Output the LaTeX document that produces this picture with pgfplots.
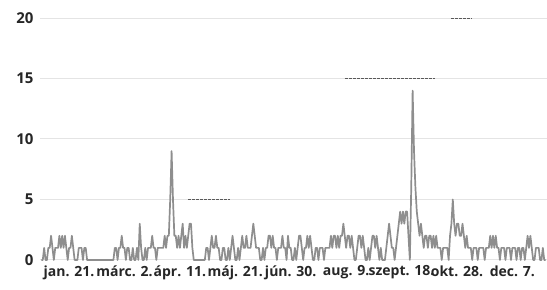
\documentclass[border=0pt]{standalone}
\usepackage{pgfplots}
\pgfplotsset{compat=1.18}
\usepackage{fontspec}
\setmainfont{Open Sans}
\definecolor{linegray}{HTML}{8E8E8E}
\definecolor{gridgray}{HTML}{E4E4E4}
\begin{document}
\begin{tikzpicture}
\useasboundingbox (-40bp,-26.4bp) rectangle (507bp,263.6bp);
\begin{axis}[
  at={(0,0)}, anchor=south west,
  scale only axis,
  width=507bp, height=249.2bp,
  xmin=0, xmax=366,
  ymin=-0.3, ymax=20.3,
  clip=false,
  axis line style={draw=none},
  tick style={draw=none},
  ytick={0,5,10,15,20},
  xtick={21,61,101,141,181,221,261,301,341},
  xticklabels={jan. 21.,márc. 2.,ápr. 11.,máj. 21.,jún. 30.,aug. 9.,szept. 18.,okt. 28.,dec. 7.},
  ymajorgrids,
  major grid style={gridgray, line width=1bp},
  /pgf/number format/assume math mode=true,
  yticklabel style={font=\fontsize{15bp}{16bp}\selectfont\bfseries, xshift=-3bp, text=black!85},
  xticklabel style={font=\fontsize{14bp}{15bp}\selectfont\bfseries, inner sep=1bp, yshift=-1bp, text=black!85},
]
\addplot[forget plot, black!65, line width=0.8bp, dash pattern=on 3bp off 1bp] coordinates {(107,5)(137,5)};
\addplot[forget plot, black!65, line width=0.8bp, dash pattern=on 3bp off 1bp] coordinates {(220,15)(285,15)};
\addplot[forget plot, black!65, line width=0.8bp, dash pattern=on 3bp off 1bp] coordinates {(297,20)(312,20)};
\addplot[linegray, line width=1.7bp, line join=round] coordinates {
(1,0)(2,0)(3,1)(4,0)(5,0)(6,1)(7,1)(8,2)(9,1)(10,0)
(11,1)(12,1)(13,1)(14,2)(15,1)(16,2)(17,1)(18,2)(19,1)(20,0)
(21,1)(22,1)(23,2)(24,1)(25,0)(26,0)(27,0)(28,1)(29,1)(30,1)
(31,0)(32,1)(33,1)(34,0)(35,0)(36,0)(37,0)(38,0)(39,0)(40,0)
(41,0)(42,0)(43,0)(44,0)(45,0)(46,0)(47,0)(48,0)(49,0)(50,0)
(51,0)(52,0)(53,0)(54,1)(55,1)(56,0)(57,1)(58,1)(59,2)(60,1)
(61,1)(62,0)(63,1)(64,1)(65,0)(66,0)(67,1)(68,0)(69,0)(70,1)
(71,0)(72,3)(73,1)(74,0)(75,0)(76,1)(77,0)(78,1)(79,1)(80,1)
(81,2)(82,1)(83,1)(84,0)(85,1)(86,1)(87,1)(88,1)(89,1)(90,2)
(91,1)(92,2)(93,2)(94,5)(95,9)(96,5)(97,2)(98,2)(99,1)(100,2)
(101,1)(102,2)(103,3)(104,1)(105,2)(106,1)(107,2)(108,3)(109,3)(110,1)
(111,0)(112,0)(113,0)(114,0)(115,0)(116,0)(117,0)(118,0)(119,0)(120,1)
(121,1)(122,0)(123,1)(124,2)(125,1)(126,1)(127,2)(128,1)(129,1)(130,0)
(131,0)(132,1)(133,1)(134,0)(135,0)(136,1)(137,0)(138,1)(139,2)(140,1)
(141,0)(142,0)(143,1)(144,0)(145,1)(146,2)(147,1)(148,1)(149,2)(150,1)
(151,1)(152,1)(153,2)(154,3)(155,2)(156,1)(157,1)(158,1)(159,0)(160,0)
(161,1)(162,0)(163,1)(164,1)(165,2)(166,2)(167,1)(168,2)(169,1)(170,1)
(171,0)(172,1)(173,1)(174,1)(175,2)(176,1)(177,1)(178,0)(179,2)(180,1)
(181,1)(182,0)(183,0)(184,1)(185,0)(186,1)(187,2)(188,2)(189,1)(190,0)
(191,1)(192,1)(193,2)(194,1)(195,2)(196,1)(197,0)(198,0)(199,1)(200,1)
(201,0)(202,1)(203,1)(204,1)(205,0)(206,1)(207,1)(208,1)(209,1)(210,2)
(211,1)(212,2)(213,2)(214,1)(215,2)(216,1)(217,2)(218,2)(219,3)(220,2)
(221,1)(222,2)(223,2)(224,1)(225,2)(226,1)(227,0)(228,0)(229,1)(230,2)
(231,2)(232,1)(233,2)(234,1)(235,0)(236,0)(237,1)(238,0)(239,1)(240,2)
(241,2)(242,1)(243,2)(244,1)(245,0)(246,1)(247,0)(248,0)(249,0)(250,1)
(251,2)(252,3)(253,2)(254,1)(255,1)(256,0)(257,1)(258,2)(259,3)(260,4)
(261,3)(262,4)(263,3)(264,4)(265,4)(266,2)(267,0)(268,6)(269,14)(270,9)
(271,6)(272,4)(273,3)(274,2)(275,3)(276,2)(277,1)(278,2)(279,2)(280,1)
(281,2)(282,2)(283,1)(284,2)(285,1)(286,2)(287,1)(288,1)(289,1)(290,0)
(291,1)(292,1)(293,1)(294,1)(295,0)(296,2)(297,3)(298,5)(299,3)(300,2)
(301,3)(302,3)(303,2)(304,2)(305,3)(306,2)(307,1)(308,2)(309,1)(310,1)
(311,1)(312,0)(313,1)(314,1)(315,1)(316,0)(317,1)(318,1)(319,1)(320,1)
(321,0)(322,1)(323,1)(324,1)(325,2)(326,1)(327,2)(328,1)(329,2)(330,1)
(331,1)(332,0)(333,1)(334,1)(335,1)(336,0)(337,1)(338,1)(339,1)(340,0)
(341,1)(342,1)(343,1)(344,0)(345,1)(346,1)(347,0)(348,1)(349,1)(350,0)
(351,1)(352,2)(353,1)(354,2)(355,1)(356,0)(357,0)(358,1)(359,1)(360,1)
(361,0)(362,0)(363,1)(364,0)(365,0)
};
\end{axis}
\end{tikzpicture}
\end{document}
